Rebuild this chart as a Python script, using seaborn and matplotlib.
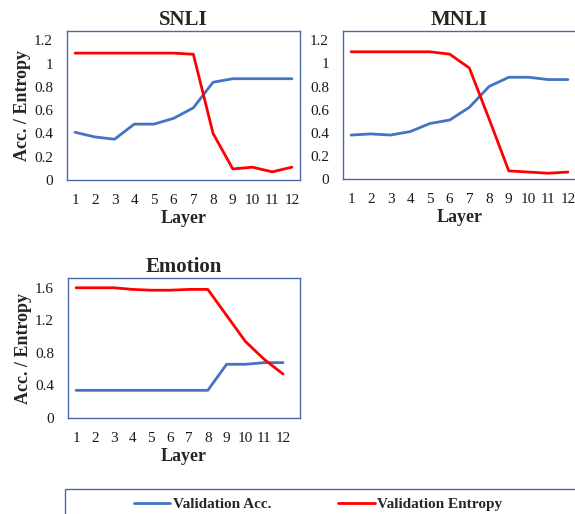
import numpy as np
import pandas as pd
import seaborn as sns
import matplotlib.pyplot as plt
from matplotlib.patches import Rectangle

layers = list(range(1, 13))

snli_acc = [0.41, 0.37, 0.35, 0.48, 0.48, 0.53, 0.62, 0.84, 0.87, 0.87, 0.87, 0.87]
snli_ent = [1.09, 1.09, 1.09, 1.09, 1.09, 1.09, 1.08, 0.40, 0.095, 0.11, 0.07, 0.11]

mnli_acc = [0.38, 0.39, 0.38, 0.41, 0.48, 0.51, 0.62, 0.80, 0.88, 0.88, 0.86, 0.86]
mnli_ent = [1.10, 1.10, 1.10, 1.10, 1.10, 1.08, 0.96, 0.52, 0.07, 0.06, 0.05, 0.06]

emo_acc = [0.34, 0.34, 0.34, 0.34, 0.34, 0.34, 0.34, 0.34, 0.66, 0.66, 0.68, 0.68]
emo_ent = [1.60, 1.60, 1.60, 1.58, 1.57, 1.57, 1.58, 1.58, 1.26, 0.94, 0.72, 0.54]

sns.set_theme(style="white")
plt.rcParams['font.family'] = ['Liberation Serif', 'DejaVu Serif']

blue = '#4472C4'
red = '#FF0000'
frame = '#4a69ad'

fig = plt.figure(figsize=(5.75, 5.14), dpi=100)

paneles = [
    ('SNLI', snli_acc, snli_ent, [67/575, 334/514, 233/575, 149/514], (0.59, 12.41), (0, 1.28), [0, 0.2, 0.4, 0.6, 0.8, 1, 1.2]),
    ('MNLI', mnli_acc, mnli_ent, [343/575, 335/514, 233/575, 148/514], (0.59, 12.41), (0, 1.28), [0, 0.2, 0.4, 0.6, 0.8, 1, 1.2]),
    ('Emotion', emo_acc, emo_ent, [68/575, 96/514, 232/575, 140/514], (0.57, 12.9), (0, 1.72), [0, 0.4, 0.8, 1.2, 1.6]),
]

for nombre, acc, ent, pos, xl, yl, yt in paneles:
    ax = fig.add_axes(pos)
    df = pd.DataFrame({'Layer': layers, 'acc': acc, 'ent': ent})
    sns.lineplot(x='Layer', y='acc', data=df, ax=ax, color=blue, linewidth=2.0, label='Validation Acc.')
    sns.lineplot(x='Layer', y='ent', data=df, ax=ax, color=red, linewidth=2.0, label='Validation Entropy')
    ax.set_xlim(*xl)
    ax.set_ylim(*yl)
    ax.set_xticks(layers)
    ax.set_yticks(yt)
    ax.set_yticklabels([('%g' % v) for v in yt])
    ax.tick_params(axis='both', length=0, labelsize=11, colors='#1a1a1a')
    ax.tick_params(axis='x', pad=10)
    ax.tick_params(axis='y', pad=10)
    for s in ax.spines.values():
        s.set_color(frame)
        s.set_linewidth(1.0)
    ax.set_title(nombre, fontsize=15, fontweight='bold', pad=4)
    ax.set_xlabel('Layer', fontsize=13, fontweight='bold', labelpad=2)
    if nombre != 'MNLI':
        ax.set_ylabel('Acc. / Entropy', fontsize=13, fontweight='bold', labelpad=2)
    else:
        ax.set_ylabel('')
    handles, labels = ax.get_legend_handles_labels()
    ax.get_legend().remove()

# caja de la leyenda (se sale del lienzo, como en la original)
caja = Rectangle((65/575, -0.1), 1.0, (514-489)/514 + 0.1, transform=fig.transFigure,
                 fill=False, edgecolor=frame, linewidth=1.0, clip_on=False)
fig.patches.append(caja)

fig.legend(handles, labels, loc='center', bbox_to_anchor=(318/575, 10/514), ncol=2, frameon=False,
           handlelength=2.4, handletextpad=0.15, columnspacing=4.4,
           prop={'family': 'Liberation Serif', 'weight': 'bold', 'size': 11})

plt.savefig('out.png', dpi=100)
plt.close()
